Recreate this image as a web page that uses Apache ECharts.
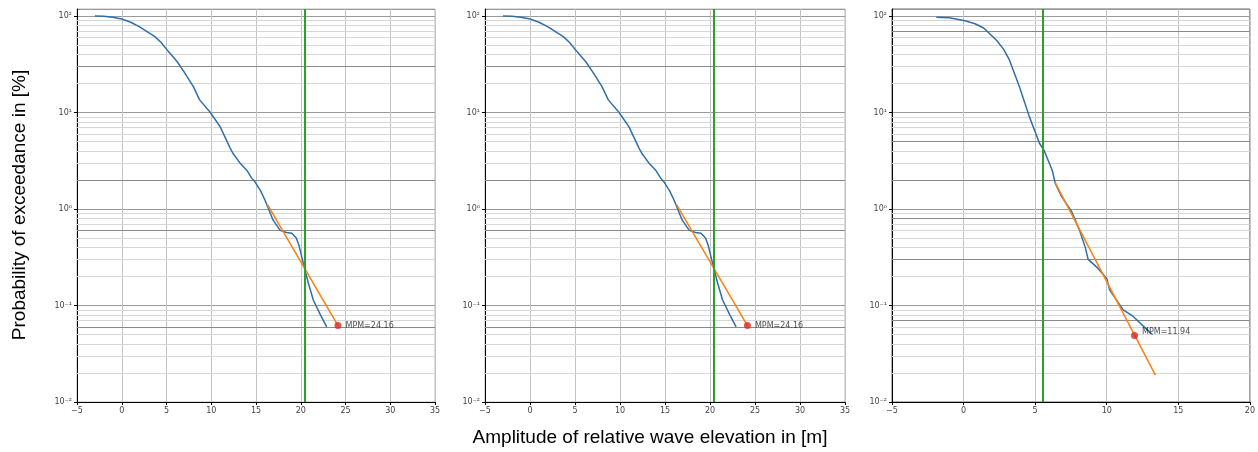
<!DOCTYPE html>
<html>
<head>
<meta charset="utf-8">
<script src="https://cdn.jsdelivr.net/npm/echarts@6/dist/echarts.min.js"></script>
<style>
html,body{margin:0;padding:0;background:#fff;}
#chart{width:1258px;height:452px;}
</style>
</head>
<body>
<div id="chart"></div>
<script>
// ---- data ----
const xBlueA = [-3, -2, -1, 0, 1, 2, 3, 3.7, 4.4, 5.1, 6.2, 7, 8, 8.7, 9.9, 11, 12.1, 12.4, 13.2, 14.0, 14.5, 14.9, 15.5, 16, 16.9, 17.7, 18.4, 19.0, 19.5, 19.8, 20.3, 20.85, 21.4, 22.2, 22.9];
const pBlueA = [100, 99, 97, 93, 86, 77, 67, 61, 53, 44, 33.5, 26, 18.5, 13.5, 10, 7.1, 4.3, 3.8, 3.0, 2.5, 2.1, 1.9, 1.55, 1.24, 0.77, 0.6, 0.57, 0.56, 0.5, 0.42, 0.27, 0.17, 0.114, 0.08, 0.06];
const xFitA = [16.3, 24.16];
const pFitA = [1.1, 0.062];
const mpmA = 24.16, pMpmA = 0.062, thresholdA = 20.4;

const xBlueC = [-1.9, -1, 0.1, 0.8, 1.4, 2.3, 2.8, 3.2, 3.9, 4.6, 5.3, 5.6, 6.2, 6.4, 6.85, 7.55, 8.1, 8.5, 8.7, 9.3, 10.0, 10.2, 11.15, 11.85, 13.0, 13.2];
const pBlueC = [97, 96, 89, 83, 75, 56, 45, 35, 18.5, 9, 4.8, 4.1, 2.5, 1.85, 1.34, 0.94, 0.6, 0.4, 0.3, 0.25, 0.19, 0.145, 0.09, 0.077, 0.053, 0.05];
const xFitC = [6.38, 13.4];
const pFitC = [1.9, 0.019];
const mpmC = 11.94, pMpmC = 0.049, thresholdC = 5.5;

const xRangeA = [-5, 35];
const xRangeC = [-5, 20];
const yRange = [0.01, 118];
const minorMult = [2, 3, 4, 5, 6, 7, 8, 9];
const decades = [0.01, 0.1, 1, 10];
const darkLinesA = [30, 2, 0.6, 0.06];
const darkLinesC = [70, 5, 2, 0.8, 0.3, 0.07];

const yTitle = 'Probability of exceedance in [%]';
const xTitle = 'Amplitude of relative wave elevation in [m]';

// ---- build ----
const sup = {'0':'⁰','1':'¹','2':'²','3':'³','4':'⁴','5':'⁵','6':'⁶','7':'⁷','8':'⁸','9':'⁹','-':'⁻'};
function yFmt(v){
  const e = Math.log10(v);
  const r = Math.round(e);
  if (Math.abs(e - r) > 1e-6) return '';
  return '10' + String(r).split('').map(c => sup[c]).join('');
}
function xFmt(v){ return v < 0 ? '\u2212' + Math.abs(v) : String(v); }
function zip(xs, ys){ return xs.map((x,i)=>[x, ys[i]]); }

function gridLines(dark){
  const arr = [];
  decades.forEach(d => minorMult.forEach(m => {
    const v = +(d*m).toPrecision(6);
    const isDark = dark.some(t => Math.abs(t - v) < 1e-9);
    arr.push({yAxis: v, lineStyle: {color: isDark ? '#8a8a8a' : '#d6d6d6', width: 1, type: 'solid'}});
  }));
  return arr;
}

const gridDefs = [
  {left: 77, width: 358, top: 9, height: 393, borderColor: '#b8b8b8', borderWidth: 1},
  {left: 485, width: 360, top: 9, height: 393, borderColor: '#b8b8b8', borderWidth: 1},
  {left: 892, width: 358, top: 9, height: 393, borderColor: '#666', borderWidth: 1}
];
const panels = [
  {xb: xBlueA, pb: pBlueA, xf: xFitA, pf: pFitA, mpm: mpmA, pm: pMpmA, thr: thresholdA, xr: xRangeA, dark: darkLinesA, lblOff: [0, 0]},
  {xb: xBlueA, pb: pBlueA, xf: xFitA, pf: pFitA, mpm: mpmA, pm: pMpmA, thr: thresholdA, xr: xRangeA, dark: darkLinesA, lblOff: [0, 0]},
  {xb: xBlueC, pb: pBlueC, xf: xFitC, pf: pFitC, mpm: mpmC, pm: pMpmC, thr: thresholdC, xr: xRangeC, dark: darkLinesC, lblOff: [0, -3]}
];

const tickFont = {fontFamily: 'DejaVu Sans', fontSize: 8, color: '#444'};
const grid = gridDefs.map(g => Object.assign({show: true, backgroundColor: 'transparent', containLabel: false}, g));
const xAxis = panels.map((p, i) => ({
  type: 'value', gridIndex: i, min: p.xr[0], max: p.xr[1], interval: 5,
  axisLine: {show: true, onZero: false, lineStyle: {color: '#000', width: 1}},
  axisTick: {show: true, length: 3, lineStyle: {color: '#000'}},
  axisLabel: Object.assign({formatter: xFmt, margin: 5}, tickFont),
  splitLine: {show: true, lineStyle: {color: '#c4c4c4', width: 1}}
}));
const yAxis = panels.map((p, i) => ({
  type: 'log', logBase: 10, gridIndex: i, min: yRange[0], max: yRange[1],
  axisLine: {show: true, onZero: false, lineStyle: {color: '#000', width: 1}},
  axisTick: {show: true, length: 3, lineStyle: {color: '#000'}},
  axisLabel: Object.assign({formatter: yFmt, margin: 5, showMaxLabel: false}, tickFont),
  splitLine: {show: true, lineStyle: {color: '#9a9a9a', width: 1}}
}));

const series = [];
panels.forEach((p, i) => {
  series.push({
    type: 'line', xAxisIndex: i, yAxisIndex: i, data: [], silent: true, z: 1,
    markLine: {silent: true, z: 1, symbol: 'none', label: {show: false}, animation: false, data: gridLines(p.dark)}
  });
  series.push({
    type: 'line', xAxisIndex: i, yAxisIndex: i, data: zip(p.xb, p.pb), showSymbol: false,
    lineStyle: {color: '#2f6fa8', width: 1.5}, z: 3, animation: false
  });
  series.push({
    type: 'line', xAxisIndex: i, yAxisIndex: i, data: zip(p.xf, p.pf), showSymbol: false,
    lineStyle: {color: '#ff7f0e', width: 1.5}, z: 4, animation: false
  });
  series.push({
    type: 'line', xAxisIndex: i, yAxisIndex: i, data: [], z: 5,
    markLine: {silent: true, z: 5, symbol: 'none', label: {show: false}, animation: false,
      lineStyle: {color: '#2ca02c', width: 2, type: 'solid'}, data: [{xAxis: p.thr}]}
  });
  series.push({
    type: 'scatter', xAxisIndex: i, yAxisIndex: i, data: [[p.mpm, p.pm]], symbolSize: 7,
    itemStyle: {color: '#d62728'}, z: 6, animation: false,
    label: {show: true, position: 'right', distance: 4, offset: p.lblOff, formatter: 'MPM=' + p.mpm.toFixed(2),
      fontFamily: 'DejaVu Sans', fontSize: 8, color: '#222'}
  });
});

const chart = echarts.init(document.getElementById('chart'), null, {renderer: 'canvas'});
chart.setOption({
  animation: false,
  backgroundColor: '#fff',
  grid, xAxis, yAxis, series,
  graphic: [
    {type: 'text', x: 20, y: 205, rotation: Math.PI/2,
      style: {text: yTitle, fontFamily: 'Liberation Sans', fontSize: 19, fill: '#000', align: 'center', verticalAlign: 'middle'}},
    {type: 'text', x: 650, y: 438,
      style: {text: xTitle, fontFamily: 'Liberation Sans', fontSize: 19, fill: '#000', align: 'center', verticalAlign: 'middle'}}
  ]
});
</script>
</body>
</html>
